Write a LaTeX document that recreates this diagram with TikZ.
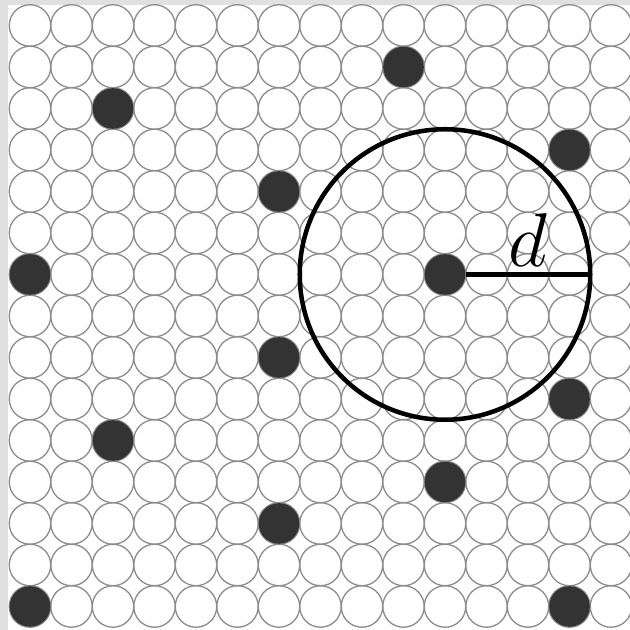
\documentclass[tikz,border=0pt]{standalone}
\usepackage{graphicx}
\usepackage{tikz}
\usetikzlibrary{positioning}

\begin{document}
\begin{tikzpicture}[x=1cm, y=-1cm,
  cell/.style={circle, draw=black!45, line width=0.9pt, minimum size=1cm, inner sep=0pt},
  site/.style={circle, fill=black!80, minimum size=0.98cm, inner sep=0pt},
  ring/.style={circle, draw=black, line width=3.1pt, minimum size=7cm, inner sep=0pt, outer sep=0pt},
  rad/.style={line width=3pt}]
\useasboundingbox (-0.723,-0.614) rectangle (14.458,14.566);
\clip (-0.723,-0.614) rectangle (14.458,14.566);
\fill[black!12] (-0.723,-0.614) rectangle (14.458,14.566);
\fill[white] (-0.53,-0.494) rectangle (14.458,14.566);
% lattice of sites
\foreach \c in {0,...,14}
  \foreach \r in {0,...,14}
    \node[cell] (c-\c-\r) at (\c,\r) {};
% occupied sites
\foreach \c/\r in {9/1, 2/2, 13/3, 6/4, 0/6, 6/8, 13/9, 2/10, 10/11, 6/12, 0/14, 13/14}
  \node[site] (s-\c-\r) at (c-\c-\r) {};
\node[site] (ctr) at (c-10-6) {};
\node[ring] (range) at (ctr) {};
\draw[rad] (ctr.east) -- (range.east)
  node[midway, above=4pt, inner sep=0pt, font=\Huge] (dlab) {\scalebox{2.1}{$d$}};
\end{tikzpicture}
\end{document}
